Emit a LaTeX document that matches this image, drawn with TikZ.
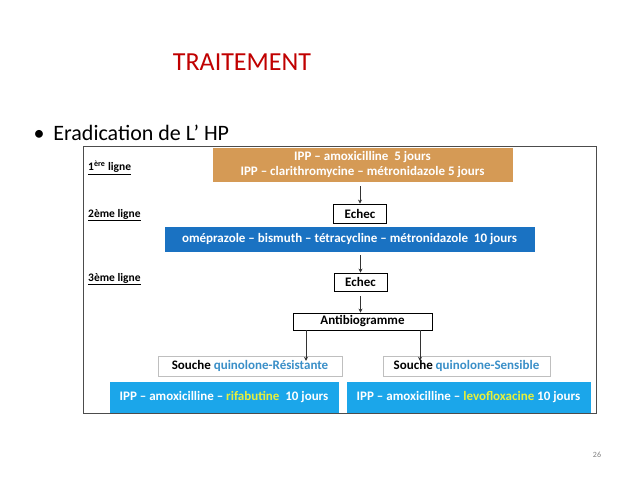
\documentclass[tikz,border=0pt]{standalone}
\usepackage{fontspec}
\setmainfont{Carlito}
\usetikzlibrary{arrows.meta}
\definecolor{orangeb}{HTML}{D59A55}
\definecolor{blueb}{HTML}{1A72C2}
\definecolor{cyanb}{HTML}{1BA6EA}
\definecolor{titred}{HTML}{C00000}
\definecolor{qblue}{HTML}{3A8FC8}
\definecolor{ylw}{HTML}{E8F03A}
\tikzset{
 box/.style={draw=#1,fill=#1,inner sep=0pt,font=\bfseries\fontsize{13}{15}\selectfont,text=white,align=center},
 wbox/.style={draw=black,line width=0.8pt,fill=white,inner sep=0pt,font=\bfseries\fontsize{13}{15}\selectfont},
 gbox/.style={draw=black!25,fill=white,inner sep=0pt,font=\bfseries\fontsize{13}{15}\selectfont},
 lab/.style={anchor=west,font=\bfseries\fontsize{11.5}{13}\selectfont,inner sep=0pt},
 arr/.style={-{Stealth[length=4pt,width=4pt]},black!80,line width=0.7pt}
}
\begin{document}
\begin{tikzpicture}[x=1pt,y=-1pt]
\useasboundingbox (0,0) rectangle (638,479);
\node[text=titred,font=\fontsize{26}{30}\selectfont] (t) at (242,62) {TRAITEMENT};
\node[anchor=west,font=\fontsize{22}{26}\selectfont] (b) at (30,133) {•\hspace{9pt}Eradication de L’ HP};
\draw[black!70,line width=0.8pt] (83,146) rectangle (596,413);
\node[box=orangeb,minimum width=299,minimum height=33] (o) at (362.5,164.5) {IPP – amoxicilline\ \ 5 jours\\IPP – clarithromycine – métronidazole 5 jours};
\node[lab] (l1) at (88,168) {\underline{1\textsuperscript{ère} ligne}};
\node[wbox,minimum width=53,minimum height=19] (e1) at (360,213.5) {Echec};
\node[lab] (l2) at (88,215) {\underline{2ème ligne}};
\node[box=blueb,minimum width=369,minimum height=24] (bl) at (349.5,239) {oméprazole – bismuth – tétracycline – métronidazole\ \ 10 jours};
\node[lab] (l3) at (88,279) {\underline{3ème ligne}};
\node[wbox,minimum width=53,minimum height=18] (e2) at (360.5,282) {Echec};
\node[wbox,minimum width=139,minimum height=17] (ab) at (362.5,321.5) {Antibiogramme};
\node[gbox,minimum width=184,minimum height=20] (sr) at (250,366) {Souche \textcolor{qblue}{quinolone-Résistante}};
\node[gbox,minimum width=167,minimum height=20] (ss) at (466.5,366) {Souche \textcolor{qblue}{quinolone-Sensible}};
\node[box=cyanb,minimum width=228,minimum height=30] (cl) at (224,397) {IPP – amoxicilline – \textcolor{ylw}{rifabutine}\ \ 10 jours};
\node[box=cyanb,minimum width=243,minimum height=30] (cr) at (468.5,397) {IPP – amoxicilline – \textcolor{ylw}{levofloxacine} 10 jours};
\coordinate (a1) at (306,330);
\coordinate (a2) at (420,330);
\draw[arr] (o.south -| e1) ++(0,5) -- (e1.north);
\draw[arr] (bl.south -| e2) ++(0,4) -- (e2.north);
\draw[arr] (e2.south) ++(0,5) -- (e2.south |- ab.north);
\draw[arr] (a1) -- ([yshift=-5pt]a1 |- sr.north);
\draw[arr] (a2) -- ([yshift=-5pt]a2 |- ss.north);
\node[text=black!50,font=\fontsize{8}{9}\selectfont] (n) at (597,455) {26};
\end{tikzpicture}
\end{document}
